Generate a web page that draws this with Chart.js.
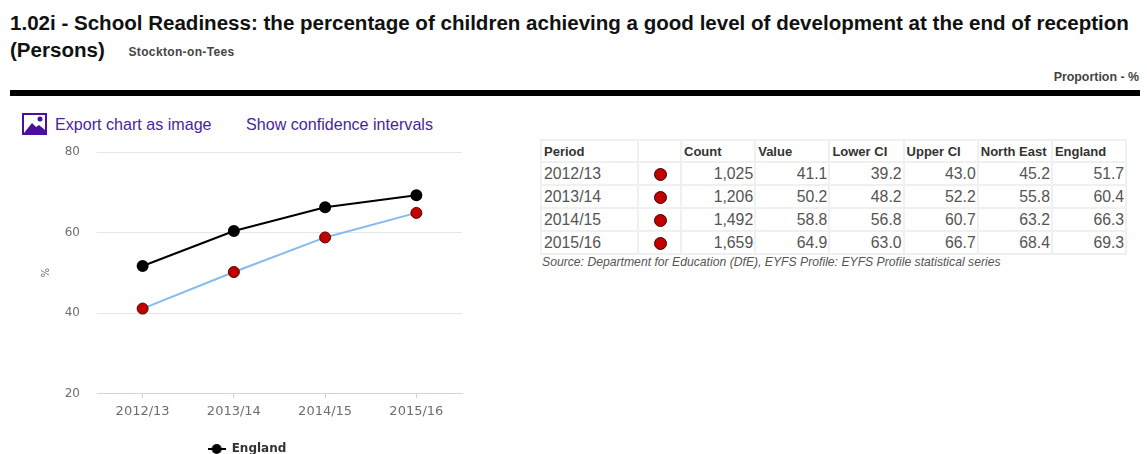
<!DOCTYPE html>
<html>
<head>
<meta charset="utf-8">
<title>School Readiness</title>
<script src="https://cdn.jsdelivr.net/npm/chart.js@4"></script>
<style>
    body { margin: 0; background: #fff; width: 1147px; height: 454px; overflow: hidden; position: relative; font-family: "Liberation Sans", Arial, sans-serif; }
    .abs { position: absolute; white-space: nowrap; }
    #title { left: 10px; top: 9px; font-size: 20.55px; font-weight: bold; color: #111; line-height: 27px; white-space: normal; width: 1130px; }
    #area { font-size: 12px; letter-spacing: 0.35px; color: #444; margin-left: 18px; position: relative; top: -1px; }
    #unit { right: 8px; top: 70px; font-size: 12.4px; font-weight: bold; color: #444; }
    #bar { left: 10px; top: 90px; width: 1130px; height: 6px; background: #000; }
    .link { top: 115px; font-size: 16.1px; color: #4a1f9e; }
    #icon { left: 22px; top: 113px; }
    #chartWrap { position: absolute; left: 25px; top: 128px; width: 444px; height: 337px; }
    #stats { position: absolute; left: 540px; top: 139px; border-collapse: separate; border-spacing: 2px; background: #f0f0f0; font-size: 15.8px; color: #555; table-layout: fixed; width: 587px; }
    #stats th, #stats td { background: #fff; height: 21px; line-height: 18px; }
    #stats th { font-size: 13px; text-align: left; color: #333; height: 17px; padding: 2px 0 0 2px; white-space: nowrap; }
    #stats td { text-align: right; padding: 0 1px 0 2px; }
    #stats td:first-child { text-align: left; }
    .dot { display: inline-block; width: 11px; height: 11px; border-radius: 50%; background: #c00000; border: 1px solid #400; vertical-align: -2px; }
    #source { left: 542px; top: 255px; font-size: 12.2px; font-style: italic; color: #555; }
</style>
</head>
<body>
<div id="title" class="abs">1.02i - School Readiness: the percentage of children achieving a good level of development at the end of reception (Persons) <span id="area">Stockton-on-Tees</span></div>
<div id="unit" class="abs">Proportion - %</div>
<div id="bar" class="abs"></div>
<svg id="icon" class="abs" width="25" height="22" viewBox="0 0 25 22">
    <rect x="1" y="1" width="23" height="20" fill="#fff" stroke="#4a0fa0" stroke-width="2"/>
    <path d="M2 20 L10 10 L14 14 L17 12 L23 17 L23 20 Z" fill="#4a0fa0"/>
    <circle cx="18" cy="6" r="2.5" fill="#4a0fa0"/>
</svg>
<div class="abs link" style="left:55px">Export chart as image</div>
<div class="abs link" style="left:246px">Show confidence intervals</div>
<div id="chartWrap"><canvas id="chart"></canvas></div>
<table id="stats"></table>
<div id="source" class="abs">Source: Department for Education (DfE), EYFS Profile: EYFS Profile statistical series</div>

<script>
const periods = ['2012/13', '2013/14', '2014/15', '2015/16'];
const counts = ['1,025', '1,206', '1,492', '1,659'];
const values = [41.1, 50.2, 58.8, 64.9];
const lowerCI = [39.2, 48.2, 56.8, 63.0];
const upperCI = [43.0, 52.2, 60.7, 66.7];
const northEast = [45.2, 55.8, 63.2, 68.4];
const england = [51.7, 60.4, 66.3, 69.3];
const yTicks = [20, 40, 60, 80];
const headers = ['Period', '', 'Count', 'Value', 'Lower CI', 'Upper CI', 'North East', 'England'];
const colWidths = [95, 41, 72.2, 72.2, 72.2, 72.2, 72.2, 72.2];

// Table
const table = document.getElementById('stats');
const colgroup = document.createElement('colgroup');
colWidths.forEach(w => {
    const col = document.createElement('col');
    col.style.width = w + 'px';
    colgroup.appendChild(col);
});
table.appendChild(colgroup);
const headRow = table.insertRow();
headers.forEach(h => {
    const th = document.createElement('th');
    th.textContent = h;
    headRow.appendChild(th);
});
periods.forEach((p, i) => {
    const row = table.insertRow();
    row.insertCell().textContent = p;
    const dotCell = row.insertCell();
    dotCell.style.textAlign = 'center';
    dotCell.innerHTML = '<span class="dot"></span>';
    row.insertCell().textContent = counts[i];
    [values, lowerCI, upperCI, northEast, england].forEach(list => {
        row.insertCell().textContent = list[i].toFixed(1);
    });
});

// Legend key: line with a dot through it
const legendKey = document.createElement('canvas');
legendKey.width = 18;
legendKey.height = 12;
const keyCtx = legendKey.getContext('2d');
keyCtx.strokeStyle = '#000';
keyCtx.lineWidth = 2;
keyCtx.beginPath();
keyCtx.moveTo(0, 6);
keyCtx.lineTo(18, 6);
keyCtx.stroke();
keyCtx.beginPath();
keyCtx.arc(9, 6, 5, 0, Math.PI * 2);
keyCtx.fill();

const tickFont = { family: '"DejaVu Sans"', size: 12 };

new Chart(document.getElementById('chart'), {
    type: 'line',
    data: {
        labels: periods,
        datasets: [
            {
                label: 'England',
                data: england,
                borderColor: '#000',
                backgroundColor: '#000',
                pointBackgroundColor: '#000',
                pointBorderColor: '#000',
                borderWidth: 2,
                pointRadius: 5
            },
            {
                label: 'Stockton-on-Tees',
                data: values,
                borderColor: '#85bbef',
                backgroundColor: '#c00000',
                pointBackgroundColor: '#c00000',
                pointBorderColor: '#5a0000',
                pointBorderWidth: 1,
                borderWidth: 2,
                pointRadius: 5.5
            }
        ]
    },
    options: {
        responsive: true,
        maintainAspectRatio: false,
        animation: false,
        layout: { padding: { top: 1, bottom: 0 } },
        plugins: {
            tooltip: { enabled: false },
            legend: {
                position: 'bottom',
                labels: {
                    filter: item => item.text === 'England',
                    usePointStyle: true,
                    pointStyle: legendKey,
                    pointStyleWidth: 18,
                    padding: 19,
                    color: '#333',
                    font: { family: '"DejaVu Sans"', size: 12, weight: 'bold' }
                }
            }
        },
        scales: {
            x: {
                offset: true,
                grid: { drawOnChartArea: false, color: '#ccd6eb', tickLength: 5 },
                border: { color: '#ccd6eb' },
                ticks: { color: '#6e6e6e', font: { family: '"DejaVu Sans"', size: 13 }, padding: 5, maxRotation: 0 }
            },
            y: {
                min: 20,
                max: 80,
                afterBuildTicks: axis => { axis.ticks = yTicks.map(v => ({ value: v })); },
                afterFit: axis => { axis.width = 72; },
                grid: { color: '#e6e6e6', drawTicks: false },
                border: { display: false },
                title: { display: true, text: '%', color: '#666', font: { family: '"DejaVu Sans"', size: 10 }, padding: { top: 15, bottom: 0 } },
                ticks: { color: '#6e6e6e', font: tickFont, padding: 17 }
            }
        }
    }
});
</script>
</body>
</html>
